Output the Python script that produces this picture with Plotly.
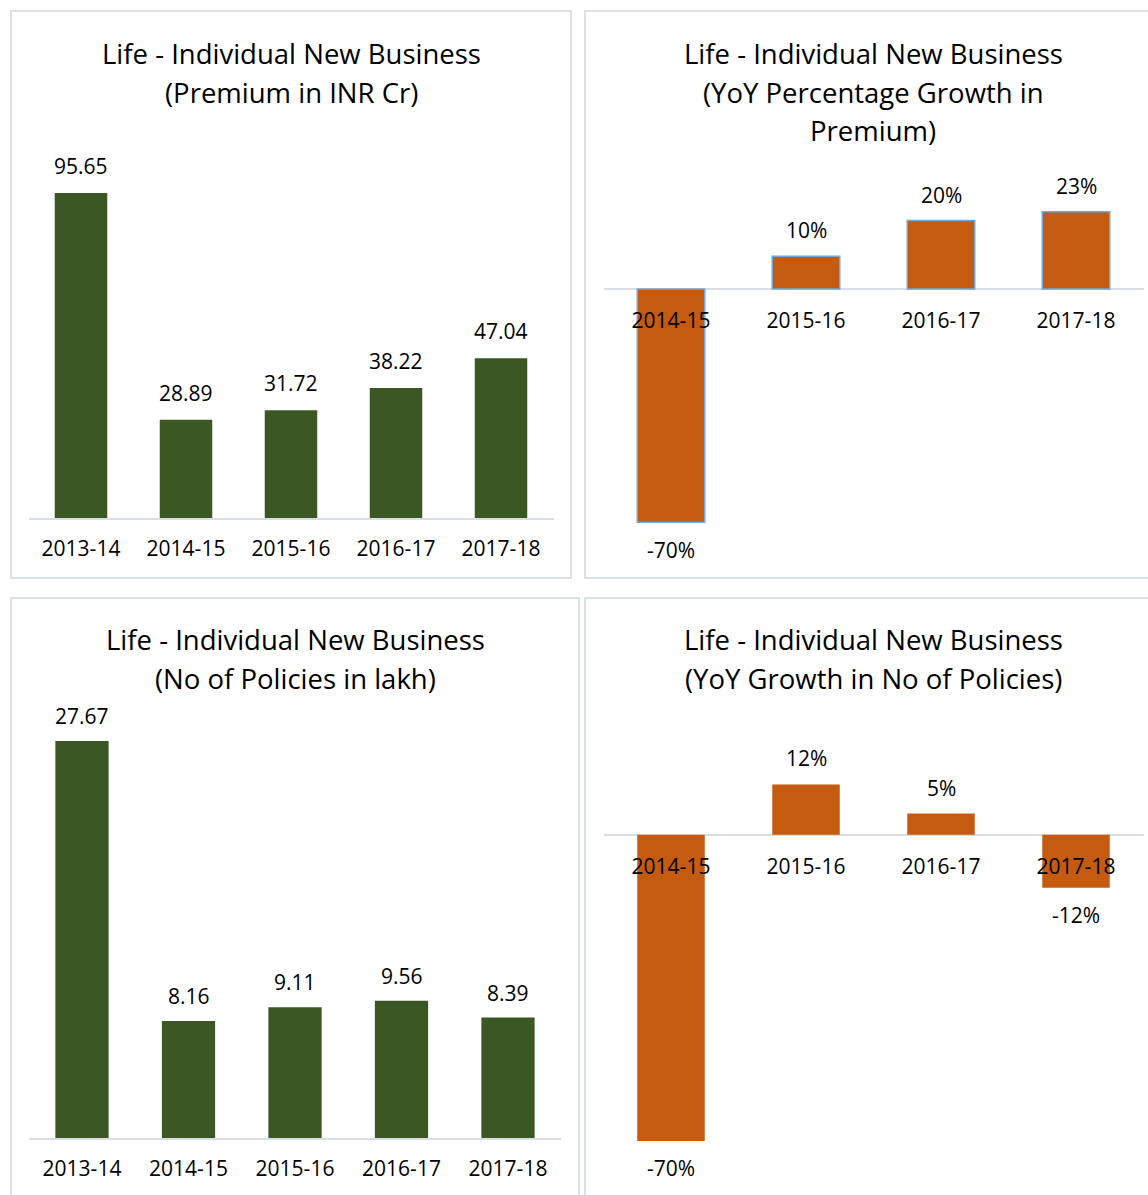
import plotly.graph_objects as go

W, H = 1148, 1195
FONT = "Open Sans"

years = ["2013-14", "2014-15", "2015-16", "2016-17", "2017-18"]
growth_years = ["2014-15", "2015-16", "2016-17", "2017-18"]

premium = [95.65, 28.89, 31.72, 38.22, 47.04]
premium_growth = [-69.8, 9.8, 20.5, 23.1]
premium_growth_labels = ["-70%", "10%", "20%", "23%"]

policies = [27.67, 8.16, 9.11, 9.56, 8.39]
policies_growth = [-70.5, 11.6, 4.9, -12.2]
policies_growth_labels = ["-70%", "12%", "5%", "-12%"]

GREEN = "#3A5724"
ORANGE = "#C55A11"
GRID = "#D9DEE5"


def px(x):
    return x / W


def py(y):
    return 1 - y / H


fig = go.Figure()

# per panel: data, labels, colour, outline, x px span, y px span (bottom, top), y range, label shift
panels = [
    dict(x=years, y=premium, text=[f"{v:.2f}" for v in premium], color=GREEN, outline=None,
         xd=(28.5, 553.5), yd=(518, 151), yr=[0, 108], shift=(27, 27), free=None, standoff=11),
    dict(x=growth_years, y=premium_growth, text=premium_growth_labels, color=ORANGE, outline="#6FA8DC",
         xd=(603.5, 1143.5), yd=(539.5, 188.8), yr=[-75, 30], shift=(26, 28), free=289, standoff=17),
    dict(x=years, y=policies, text=[f"{v:.2f}" for v in policies], color=GREEN, outline=None,
         xd=(28.75, 561.25), yd=(1138, 707.5), yr=[0, 30], shift=(25, 25), free=None, standoff=11),
    dict(x=growth_years, y=policies_growth, text=policies_growth_labels, color=ORANGE, outline=None,
         xd=(603.5, 1143.5), yd=(1160.5, 748), yr=[-75, 20], shift=(26, 27), free=835, standoff=17),
]

for i, p in enumerate(panels, start=1):
    xa = "x" if i == 1 else f"x{i}"
    ya = "y" if i == 1 else f"y{i}"
    fig.add_trace(go.Bar(
        x=p["x"], y=p["y"], xaxis=xa, yaxis=ya,
        marker=dict(color=p["color"],
                    line=dict(color=p["outline"] or p["color"], width=1.5 if p["outline"] else 0)),
        hoverinfo="x+y", showlegend=False,
    ))
    xkey = "xaxis" if i == 1 else f"xaxis{i}"
    ykey = "yaxis" if i == 1 else f"yaxis{i}"
    xax = dict(domain=[px(p["xd"][0]), px(p["xd"][1])], type="category",
               showgrid=False, zeroline=False,
               tickfont=dict(family=FONT, size=21, color="black"),
               ticks="", ticklabelstandoff=p["standoff"])
    if p["free"] is None:
        xax.update(anchor=ya, showline=True, linecolor=GRID, linewidth=2)
    else:
        xax.update(anchor="free", position=py(p["free"]), showline=False)
    yax = dict(domain=[py(p["yd"][0]), py(p["yd"][1])], range=p["yr"], anchor=xa,
               visible=True, showticklabels=False, showgrid=False, showline=False,
               zeroline=p["free"] is not None, zerolinecolor=GRID, zerolinewidth=2)
    fig.update_layout({xkey: xax, ykey: yax})

    for cat, v, t in zip(p["x"], p["y"], p["text"]):
        fig.add_annotation(x=cat, y=v, xref=xa, yref=ya, text=t, showarrow=False,
                           yanchor="middle", yshift=p["shift"][0] if v >= 0 else -p["shift"][1],
                           font=dict(family=FONT, size=21, color="black"))

titles = [
    (291, [53, 92], ["Life - Individual New Business", "(Premium in INR Cr)"]),
    (873, [53, 92, 131], ["Life - Individual New Business", "(YoY Percentage Growth in", "Premium)"]),
    (295, [639, 678], ["Life - Individual New Business", "(No of Policies in lakh)"]),
    (873, [639, 678], ["Life - Individual New Business", "(YoY Growth in No of Policies)"]),
]
for cx, ys, lines in titles:
    for yy, line in zip(ys, lines):
        fig.add_annotation(x=px(cx), y=py(yy), xref="paper", yref="paper", text=line,
                           showarrow=False, xanchor="center", yanchor="middle",
                           font=dict(family=FONT, size=27.5, color="black"))

# panel frames
frames = [(11, 11, 571, 578), (585, 11, 1160, 578), (11, 598, 579, 1210), (585, 598, 1160, 1210)]
for x0, y0, x1, y1 in frames:
    fig.add_shape(type="rect", xref="paper", yref="paper",
                  x0=px(x0), y0=py(y0), x1=px(x1), y1=py(y1),
                  line=dict(color="#DCE1E7", width=2), layer="below")

fig.update_layout(
    width=W, height=H, margin=dict(l=0, r=0, t=0, b=0),
    paper_bgcolor="white", plot_bgcolor="rgba(0,0,0,0)",
    bargap=0.5, font=dict(family=FONT),
)

fig.write_html("out.html", config={"displayModeBar": False},
               post_script="document.body.style.margin='0';")
